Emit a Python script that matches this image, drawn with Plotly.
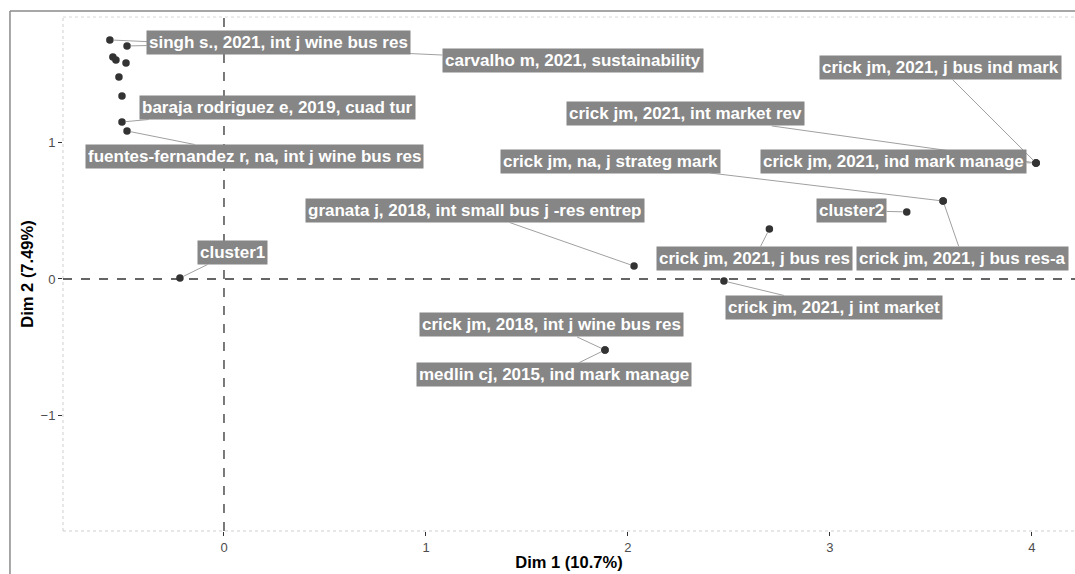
import plotly.graph_objects as go

# Document coordinates on the first two dimensions
docs = [
    "carvalho m, 2021, sustainability",
    "singh s., 2021, int j wine bus res",
    "baraja rodriguez e, 2019, cuad tur",
    "fuentes-fernandez r, na, int j wine bus res",
    "doc_a", "doc_b", "doc_c", "doc_d", "doc_e",
    "cluster1",
    "crick jm, 2021, j bus ind mark",
    "crick jm, 2021, int market rev",
    "crick jm, 2021, ind mark manage",
    "crick jm, na, j strateg mark",
    "crick jm, 2021, j bus res-a",
    "cluster2",
    "crick jm, 2021, j bus res",
    "granata j, 2018, int small bus j -res entrep",
    "crick jm, 2021, j int market",
    "crick jm, 2018, int j wine bus res",
    "medlin cj, 2015, ind mark manage",
]
dim1 = [-0.565, -0.48, -0.505, -0.48,
        -0.55, -0.535, -0.485, -0.52, -0.505,
        -0.218,
        4.02, 4.02, 4.02,
        3.56, 3.56,
        3.38,
        2.70,
        2.03,
        2.475,
        1.886, 1.886]
dim2 = [1.751, 1.707, 1.15, 1.084,
        1.626, 1.604, 1.582, 1.48, 1.341,
        0.007,
        0.85, 0.85, 0.85,
        0.571, 0.571,
        0.491,
        0.366,
        0.095,
        -0.015,
        -0.52, -0.52]
shown = [True, True, True, True,
         False, False, False, False, False,
         True,
         True, True, True,
         True, True,
         True,
         True,
         True,
         True,
         True, True]

# Label box centres (repelled positions), in data units
label_x = [1.728, 0.272, 0.267, 0.153,
           None, None, None, None, None,
           0.04,
           3.547, 2.287, 3.314,
           1.913, 3.658,
           3.106,
           2.626,
           1.243,
           3.02,
           1.621, 1.634]
label_y = [1.597, 1.729, 1.256, 0.897,
           None, None, None, None, None,
           0.194,
           1.549, 1.209, 0.864,
           0.864, 0.150,
           0.502,
           0.150,
           0.502,
           -0.209,
           -0.337, -0.703]

x_range = [-0.797, 4.213]
y_range = [-1.846, 1.919]

fig = go.Figure()

fig.add_trace(go.Scatter(
    x=dim1, y=dim2, mode="markers",
    marker=dict(color="#333333", size=7.5),
    hoverinfo="skip", showlegend=False,
))

annotations = []
for name, px, py, lx, ly, show in zip(docs, dim1, dim2, label_x, label_y, shown):
    if not show:
        continue
    annotations.append(dict(
        x=px, y=py, xref="x", yref="y",
        ax=lx, ay=ly, axref="x", ayref="y",
        text=name, showarrow=True, arrowhead=0, arrowwidth=1,
        arrowcolor="#a0a0a0", standoff=4,
        bgcolor="#868686", borderpad=2,
        font=dict(family="Liberation Sans", size=17, color="white", weight="bold"),
    ))

shapes = [
    # dotted panel border
    dict(type="line", xref="paper", yref="paper", x0=0, x1=0, y0=0, y1=1,
         line=dict(color="#cfcfcf", width=1, dash="dot"), layer="below"),
    dict(type="line", xref="paper", yref="paper", x0=0, x1=1, y0=0, y1=0,
         line=dict(color="#cfcfcf", width=1, dash="dot"), layer="below"),
    dict(type="line", xref="paper", yref="paper", x0=0, x1=1, y0=1, y1=1,
         line=dict(color="#d8d8d8", width=1, dash="dot"), layer="below"),
    # reference lines through the origin
    dict(type="line", xref="x", yref="paper", x0=0, x1=0, y0=0, y1=1,
         line=dict(color="#333333", width=1.3, dash="dash"), layer="below"),
    dict(type="line", xref="paper", yref="y", x0=0, x1=1, y0=0, y1=0,
         line=dict(color="#333333", width=1.3, dash="dash"), layer="below"),
    # outer frame
    dict(type="line", xref="paper", yref="paper", x0=-0.0524, x1=-0.0524, y0=-0.09, y1=1.0117,
         line=dict(color="#8a8a8a", width=1.5)),
    dict(type="line", xref="paper", yref="paper", x0=-0.0524, x1=1.02, y0=1.0117, y1=1.0117,
         line=dict(color="#8a8a8a", width=1.5)),
]

axis_font = dict(family="Liberation Sans", size=13, color="#4d4d4d")
title_font = dict(family="Liberation Sans", size=16.5, color="black", weight="bold")

fig.update_layout(
    width=1075, height=574,
    margin=dict(l=63, r=0, t=17, b=43),
    paper_bgcolor="white", plot_bgcolor="white",
    annotations=annotations, shapes=shapes,
    xaxis=dict(
        range=x_range, tickvals=[0, 1, 2, 3, 4], showgrid=False, zeroline=False,
        ticks="outside", ticklen=4, tickcolor="#333333", tickfont=axis_font,
        showline=False, automargin=False,
        title=dict(text="Dim 1 (10.7%)", font=title_font, standoff=2),
    ),
    yaxis=dict(
        range=y_range, tickvals=[-1, 0, 1], showgrid=False, zeroline=False,
        ticks="outside", ticklen=4, tickcolor="#333333", tickfont=axis_font,
        showline=False, automargin=False,
        title=dict(text="Dim 2 (7.49%)", font=title_font, standoff=2),
    ),
)

fig.write_html("out.html")
